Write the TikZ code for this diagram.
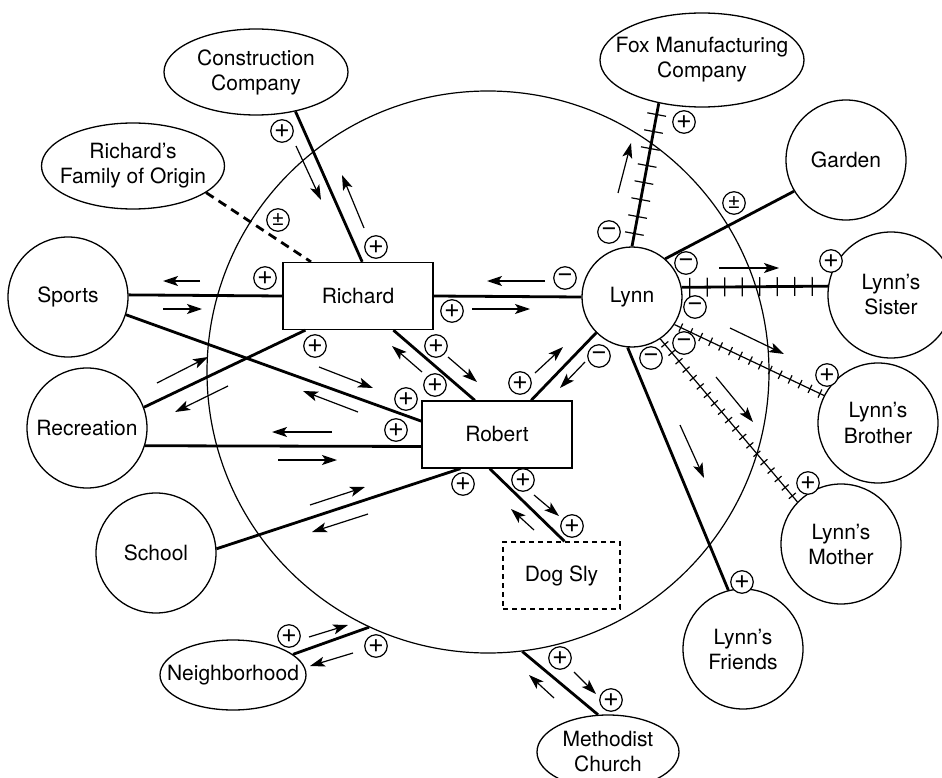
\documentclass[tikz,border=0pt]{standalone}
\usepackage{fontspec}
\setmainfont{TeX Gyre Heros}
\usetikzlibrary{arrows.meta,shapes.geometric,decorations.markings}
\begin{document}
\begin{tikzpicture}[x=1pt,y=-1pt,
  every node/.style={font=\fontsize{21}{25}\selectfont, align=center},
  boundary/.style={circle, draw, line width=1.2pt, minimum size=562pt, inner sep=0pt},
  ring/.style={circle, draw, line width=1.3pt, minimum size=120pt, inner sep=0pt},
  oval/.style={ellipse, draw, line width=1.3pt, inner sep=0pt, inner xsep=-25pt},
  person/.style={rectangle, draw, line width=1.3pt, minimum width=150pt, minimum height=67pt, inner sep=0pt},
  tie/.style={line width=2.8pt},
  flow/.style={line width=1.2pt, -{Stealth[length=15pt,width=10pt,inset=3.5pt]}},
  sgn/.style={circle, draw, fill=white, line width=1.2pt, minimum size=22.5pt, inner sep=0pt,
              font=\fontsize{27}{27}\selectfont},
  sgnpm/.style={sgn, font=\fontsize{22}{22}\selectfont},
  fence/.style={postaction={decorate, decoration={markings,
      mark=between positions #1 with {\draw[line width=1.2pt] (0,-9.5pt) -- (0,9.5pt);}}}},
  crossed/.style={line width=1.2pt, postaction={decorate, decoration={markings,
      mark=between positions #1 with {\draw[line width=1.2pt] (0,-4.5pt) -- (0,4.5pt);}}}}
]
\useasboundingbox (0,0) rectangle (942,778);

% the family boundary
\node[boundary] (family) at (488,372) {};

% outside systems
\node[oval, minimum width=184pt, minimum height=86pt] (construction) at (256,72) {Construction\\Company};
\node[oval, minimum width=183pt, minimum height=86pt] (origin) at (133,166) {Richard’s\\Family of Origin};
\node[oval, minimum width=204pt, minimum height=94pt] (fox) at (702,60) {Fox Manufacturing\\Company};
\node[oval, minimum width=146pt, minimum height=70pt] (hood) at (233,675) {Neighborhood};
\node[oval, minimum width=142pt, minimum height=74pt] (church) at (608,752) {Methodist\\Church};
\node[ring] (sports) at (68,297) {Sports};
\node[ring] (recreation) at (87,428) {Recreation};
\node[ring] (school) at (156,553) {School};
\node[ring] (garden) at (846,160) {Garden};
\node[ring, minimum size=126pt] (sister) at (891,295) {Lynn’s\\Sister};
\node[ring] (brother) at (878,423) {Lynn’s\\Brother};
\node[ring] (mother) at (841,544) {Lynn’s\\Mother};
\node[ring] (friends) at (743,649) {Lynn’s\\Friends};

% household members
\node[person] (richard) at (358,296) {Richard};
\node[person] (robert) at (497,434.5) {Robert};
\node[ring, minimum size=100pt] (lynn) at (632,297) {Lynn};
\node[person, dash pattern=on 5pt off 4pt, minimum width=117pt] (dog) at (561.5,575.5) {Dog Sly};

% relationships
\draw[tie] (construction.-45.7) -- (richard.83);
\draw[tie, dash pattern=on 9pt off 6pt] (origin.-20.6) -- (richard.144.7);
\draw[tie] (sports.2) -- (richard.west);
\draw[tie] (sports.-17) -- (robert.170.5);
\draw[tie] (recreation.20.8) -- (richard.213.7);
\draw[tie] (recreation.-17.6) -- (robert.189.5);
\draw[tie] (school.4.7) -- (robert.223.7);
\draw[tie] (richard.east) -- (lynn.west);
\draw[tie] (richard.-44.2) -- (robert.123.3);
\draw[tie] (robert.45.4) -- (lynn.225.8);
\draw[tie] (robert.258.2) -- (dog.85.7);
\draw[tie, fence=13pt and 140pt step 17.3pt] (lynn.north) -- (fox.225.7);
\draw[tie] (lynn.49.6) -- (garden.211.1);
\draw[tie, fence=8pt and 150pt step 17.5pt] (lynn.11.5) -- (sister.172.6);
\draw[crossed=7pt and 162pt step 11pt] (lynn.-33.1) -- (brother.153);
\draw[crossed=7pt and 210pt step 11pt] (lynn.-56.9) -- (mother.136.3);
\draw[tie] (lynn.265.5) -- (friends.104.5);
\draw[tie] (hood.19.3) -- (family.245.9);
\draw[tie] (family.277.7) -- (church.105.5);

% energy flow
\draw[flow] (296,146) -- (321,200);
\draw[flow] (364,228) -- (342,175);
\draw[flow] (200,281) -- (163,281);
\draw[flow] (163,309) -- (202,309);
\draw[flow] (319,367) -- (373,388);
\draw[flow] (358,412) -- (303,391);
\draw[flow] (157,383) -- (208,357);
\draw[flow] (228,386) -- (175,412);
\draw[flow] (332,432) -- (272,432);
\draw[flow] (278,460) -- (337,460);
\draw[flow] (310,505) -- (365,487);
\draw[flow] (368,514) -- (312,532);
\draw[flow] (545,281) -- (487,281);
\draw[flow] (472,309) -- (530,309);
\draw[flow] (448,357) -- (477,382);
\draw[flow] (422,372) -- (392,346);
\draw[flow] (535,373) -- (563,347);
\draw[flow] (585,362) -- (560,388);
\draw[flow] (534,495) -- (559,516);
\draw[flow] (534,530) -- (511,509);
\draw[flow] (618,193) -- (631,143);
\draw[flow] (719,268) -- (779,268);
\draw[flow] (730,328) -- (784,354);
\draw[flow] (716,377) -- (753,422);
\draw[flow] (680,425) -- (704,478);
\draw[flow] (309,637) -- (348,625);
\draw[flow] (353,653) -- (310,666);
\draw[flow] (574,672) -- (596,694);
\draw[flow] (554,698) -- (529,675);

% signs of the relationships
\node[sgn] (s1) at (282,131) {+};
\node[sgn] (s2) at (376,247) {+};
\node[sgnpm] (s3) at (278,220) {±};
\node[sgn] (s4) at (265,278) {+};
\node[sgn] (s5) at (315,346) {+};
\node[sgn] (s6) at (406,399) {+};
\node[sgn] (s7) at (396,430) {+};
\node[sgn] (s8) at (463,484) {+};
\node[sgn] (s9) at (565,278) {−};
\node[sgn] (s10) at (452,311) {+};
\node[sgn] (s11) at (436,346) {+};
\node[sgn] (s12) at (435,385) {+};
\node[sgn] (s13) at (520,383) {+};
\node[sgn] (s14) at (599,356) {−};
\node[sgn] (s15) at (523,480) {+};
\node[sgn] (s16) at (572,526) {+};
\node[sgn] (s17) at (609,232) {−};
\node[sgn] (s18) at (684,122) {+};
\node[sgnpm] (s19) at (734,203) {±};
\node[sgn] (s20) at (686,263) {−};
\node[sgn] (s21) at (831,261) {+};
\node[sgn] (s22) at (695,307) {−};
\node[sgn] (s23) at (827,375) {+};
\node[sgn] (s24) at (684,343) {−};
\node[sgn] (s25) at (808,483) {+};
\node[sgn] (s26) at (651,358) {−};
\node[sgn] (s27) at (742,582) {+};
\node[sgn] (s28) at (289,636) {+};
\node[sgn] (s29) at (376,646) {+};
\node[sgn] (s30) at (560,658) {+};
\node[sgn] (s31) at (611,700) {+};
\end{tikzpicture}
\end{document}
